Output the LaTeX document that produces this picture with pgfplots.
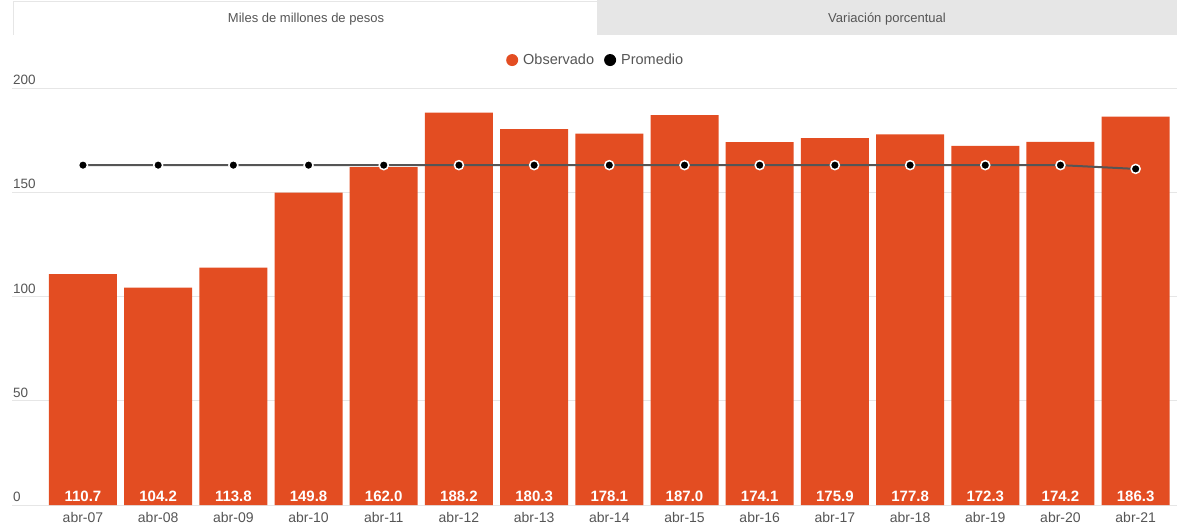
\documentclass[border=0pt]{standalone}
\usepackage{pgfplots}
\pgfplotsset{compat=1.18}
\usetikzlibrary{calc}
\usepackage{fontspec}
\setmainfont{Liberation Sans}
\definecolor{barc}{HTML}{E34D22}
\definecolor{txt}{HTML}{555555}
\definecolor{gridc}{HTML}{E6E6E6}
\definecolor{tabg}{HTML}{E6E6E6}
\definecolor{linec}{HTML}{555555}
\newcommand{\lbl}{\fontsize{13}{15}\selectfont}
\newcommand{\xl}{\fontsize{14}{16}\selectfont}
\begin{document}
\begin{tikzpicture}
\begin{axis}[
    scale only axis, width=1165pt, height=417pt,
    xmin=-0.944, xmax=14.55, ymin=0, ymax=200,
    axis line style={draw=none},
    ytick={0,50,100,150,200},
    ymajorgrids, grid style={gridc, line width=1pt},
    major tick length=0pt,
    xtick={0,...,14},
    xticklabels={abr-07,abr-08,abr-09,abr-10,abr-11,abr-12,abr-13,abr-14,abr-15,abr-16,abr-17,abr-18,abr-19,abr-20,abr-21},
    xticklabel style={text=txt, font=\xl, yshift=-3.5pt},
    yticklabel style={text=txt, font=\fontsize{13.5}{15}\selectfont, anchor=south west, inner sep=0pt, xshift=1pt, yshift=3pt},
    /pgf/number format/assume math mode=true,
    legend columns=2,
    legend style={at={(0.501,1.067)}, anchor=center, draw=none, fill=none,
        font=\fontsize{14.5}{16}\selectfont, text=txt,
        /tikz/every odd column/.append style={column sep=3pt},
        /tikz/every even column/.append style={column sep=8pt}},
]
\addplot[ybar, bar width=68pt, bar shift=0pt, fill=barc, draw=none,
    legend image code/.code={\fill[barc, draw=none] (6pt,0) circle (6pt);}]
coordinates {(0,110.7) (1,104.2) (2,113.8) (3,149.8) (4,162.0) (5,188.2) (6,180.3) (7,178.1)
             (8,187.0) (9,174.1) (10,175.9) (11,177.8) (12,172.3) (13,174.2) (14,186.3)};
\addlegendentry{Observado}
\addplot[color=linec, line width=2pt, mark=*, mark size=4.5pt,
    mark options={fill=black, draw=white, line width=1.5pt},
    legend image code/.code={\fill[black, draw=none, line width=0pt] (6pt,0) circle (6pt);}]
coordinates {(0,163.0) (1,163.0) (2,163.0) (3,163.0) (4,163.0) (5,163.0) (6,163.0) (7,163.0)
             (8,163.0) (9,163.0) (10,163.0) (11,163.0) (12,163.0) (13,163.0) (14,161.2)};
\addlegendentry{Promedio}
\addplot[draw=none, mark=none, forget plot, point meta=explicit symbolic,
    nodes near coords, nodes near coords style={anchor=south, text=white, font=\fontsize{15}{17}\selectfont\bfseries}]
coordinates {(0,0)[110.7] (1,0)[104.2] (2,0)[113.8] (3,0)[149.8] (4,0)[162.0] (5,0)[188.2]
             (6,0)[180.3] (7,0)[178.1] (8,0)[187.0] (9,0)[174.1] (10,0)[175.9] (11,0)[177.8]
             (12,0)[172.3] (13,0)[174.2] (14,0)[186.3]};
\coordinate (bl) at (rel axis cs:0,0);
\end{axis}
% pestañas, relativas a la esquina inferior izquierda del eje
\fill[tabg] ($(bl)+(585pt,470pt)$) rectangle ($(bl)+(1165pt,505pt)$);
\draw[gridc, line width=1pt] ($(bl)+(2pt,470pt)$) -- ($(bl)+(2pt,503.5pt)$) -- ($(bl)+(585pt,503.5pt)$) -- ($(bl)+(585pt,470pt)$);
\node[text=txt, font=\lbl] at ($(bl)+(294pt,486pt)$) {Miles de millones de pesos};
\node[text=txt, font=\lbl] at ($(bl)+(875pt,486pt)$) {Variación porcentual};
\pgfresetboundingbox
\useasboundingbox ($(bl)+(-12pt,-26pt)$) rectangle ($(bl)+(1165pt,505pt)$);
\end{tikzpicture}
\end{document}
